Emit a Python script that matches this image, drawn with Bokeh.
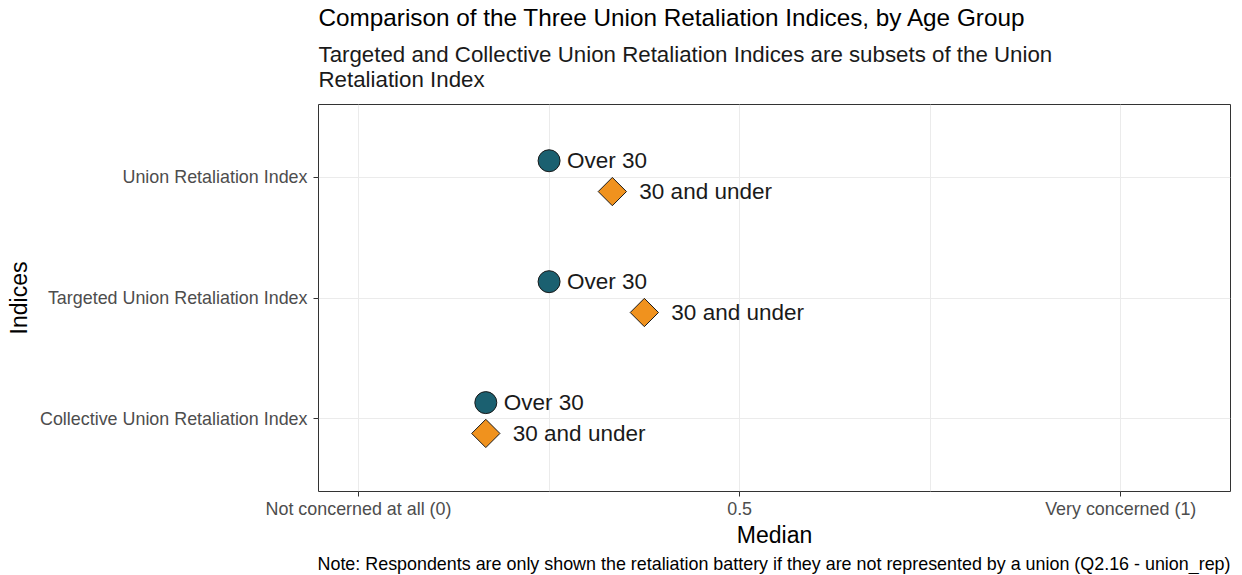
import numpy as np
from bokeh.plotting import figure
from bokeh.models import FixedTicker, Title, ColumnDataSource
from bokeh.embed import file_html
from bokeh.resources import INLINE
from bokeh.core.properties import value

indices = ["Union Retaliation Index", "Targeted Union Retaliation Index", "Collective Union Retaliation Index"]
index_pos = [3, 2, 1]
over30 = [0.25, 0.25, 0.167]
under30 = [0.333, 0.375, 0.167]
x_ticks = [0, 0.5, 1]
x_tick_labels = ["Not concerned at all (0)", "0.5", "Very concerned (1)"]

FONT = "Liberation Sans"

p = figure(width=1234, height=574, output_backend="svg", toolbar_location=None,
           x_range=(-0.0525, 1.144), y_range=(0.4, 3.6),
           min_border_left=318, min_border_right=4, min_border_top=104, min_border_bottom=0)
p.title.visible = False

sub = Title(text="Targeted and Collective Union Retaliation Indices are subsets of the Union\nRetaliation Index",
            text_font=FONT, text_font_size="22.3px", text_font_style="normal", text_color="#1a1a1a",
            align="left", standoff=26)
p.add_layout(sub, "above")
main = Title(text="Comparison of the Three Union Retaliation Indices, by Age Group",
             text_font=FONT, text_font_size="24.3px", text_font_style="normal", text_color="#000000",
             align="left", standoff=-8)
p.add_layout(main, "above")
note = Title(text="Note: Respondents are only shown the retaliation battery if they are not represented by a union (Q2.16 - union_rep)",
             text_font=FONT, text_font_size="17.9px", text_font_style="normal", text_color="#000000",
             align="right", standoff=2)
p.add_layout(note, "below")

p.background_fill_color = "white"
p.border_fill_color = "white"
p.outline_line_color = "#333333"
p.outline_line_width = 1

p.xaxis.ticker = FixedTicker(ticks=x_ticks, minor_ticks=[0.25, 0.75])
p.xaxis.major_label_overrides = {t: l for t, l in zip(x_ticks, x_tick_labels)}
p.yaxis.ticker = FixedTicker(ticks=index_pos)
p.yaxis.major_label_overrides = {pos: name for pos, name in zip(index_pos, indices)}

for ax in (p.xaxis, p.yaxis):
    ax.axis_line_color = None
    ax.major_tick_line_color = "#333333"
    ax.major_tick_out = 5
    ax.major_tick_in = 0
    ax.minor_tick_line_color = None
    ax.major_label_text_font = FONT
    ax.major_label_text_font_size = "17.9px"
    ax.major_label_text_color = "#4d4d4d"
    ax.axis_label_text_font = FONT
    ax.axis_label_text_font_size = "23px"
    ax.axis_label_text_font_style = "normal"
    ax.axis_label_text_color = "#000000"

p.xaxis.major_label_standoff = 2
p.yaxis.major_label_standoff = 6
p.xaxis.axis_label = "Median"
p.yaxis.axis_label = "Indices"
p.xaxis.axis_label_standoff = 0

p.xgrid.grid_line_color = "#ebebeb"
p.xgrid.grid_line_width = 1
p.xgrid.minor_grid_line_color = "#ebebeb"
p.xgrid.minor_grid_line_width = 1
p.ygrid.grid_line_color = "#ebebeb"
p.ygrid.grid_line_width = 1

OFF_UP = 0.135
OFF_DN = -0.12

src_o = ColumnDataSource(dict(x=over30, y=[v + OFF_UP for v in index_pos], t=["Over 30"] * 3))
src_u = ColumnDataSource(dict(x=under30, y=[v + OFF_DN for v in index_pos], t=["30 and under"] * 3))

p.scatter("x", "y", source=src_o, marker="circle", size=22, fill_color="#1b6070",
          line_color="#1a1a1a", line_width=1)
p.scatter("x", "y", source=src_u, marker="square", size=20, angle=np.pi / 4, fill_color="#f0921e",
          line_color="#1a1a1a", line_width=1)

p.text("x", "y", text="t", source=src_o, x_offset=18, text_baseline="middle", text_align="left",
       text_font=value(FONT), text_font_size="22.5px", text_color="#1a1a1a")
p.text("x", "y", text="t", source=src_u, x_offset=27, text_baseline="middle", text_align="left",
       text_font=value(FONT), text_font_size="22.5px", text_color="#1a1a1a")

open("out.html", "w").write(file_html(p, INLINE))
